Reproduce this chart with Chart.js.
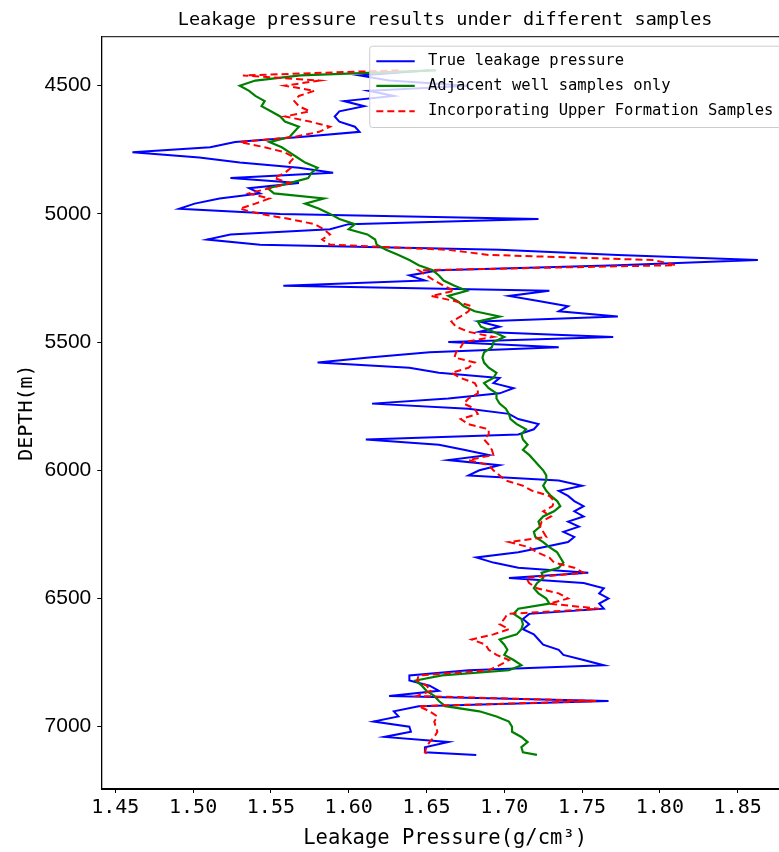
<!DOCTYPE html>
<html>
<head>
<meta charset="utf-8">
<title>Leakage pressure results under different samples</title>
<script src="https://cdn.jsdelivr.net/npm/chart.js@4.4.0/dist/chart.umd.min.js"></script>
<style>
  html, body { margin: 0; padding: 0; background: #fff; overflow: hidden; }
  #wrap { width: 800px; height: 852px; }
</style>
</head>
<body>
<div id="wrap"><canvas id="chart" width="800" height="852"></canvas></div>
<script>
// depth (m), every 20 m
const depths = [
  4440, 4460, 4480, 4500, 4520, 4540, 4560, 4580, 4600, 4620,
  4640, 4660, 4680, 4700, 4720, 4740, 4760, 4780, 4800, 4820,
  4840, 4860, 4880, 4900, 4920, 4940, 4960, 4980, 5000, 5020,
  5040, 5060, 5080, 5100, 5120, 5140, 5160, 5180, 5200, 5220,
  5240, 5260, 5280, 5300, 5320, 5340, 5360, 5380, 5400, 5420,
  5440, 5460, 5480, 5500, 5520, 5540, 5560, 5580, 5600, 5620,
  5640, 5660, 5680, 5700, 5720, 5740, 5760, 5780, 5800, 5820,
  5840, 5860, 5880, 5900, 5920, 5940, 5960, 5980, 6000, 6020,
  6040, 6060, 6080, 6100, 6120, 6140, 6160, 6180, 6200, 6220,
  6240, 6260, 6280, 6300, 6320, 6340, 6360, 6380, 6400, 6420,
  6440, 6460, 6480, 6500, 6520, 6540, 6560, 6580, 6600, 6620,
  6640, 6660, 6680, 6700, 6720, 6740, 6760, 6780, 6800, 6820,
  6840, 6860, 6880, 6900, 6920, 6940, 6960, 6980, 7000, 7020,
  7040, 7060, 7080, 7100, 7110
];

// True leakage pressure (g/cm3)
const trueLeak = [
  1.652, 1.607, 1.626, 1.677, 1.613, 1.629, 1.597, 1.610, 1.594, 1.591,
  1.594, 1.604, 1.607, 1.569, 1.527, 1.511, 1.461, 1.504, 1.530, 1.568,
  1.590, 1.524, 1.568, 1.536, 1.543, 1.517, 1.501, 1.491, 1.556, 1.722,
  1.600, 1.588, 1.524, 1.509, 1.543, 1.697, 1.773, 1.863, 1.773, 1.658,
  1.639, 1.649, 1.558, 1.729, 1.703, 1.722, 1.741, 1.735, 1.773, 1.684,
  1.697, 1.684, 1.770, 1.664, 1.735, 1.652, 1.613, 1.580, 1.639, 1.658,
  1.697, 1.693, 1.706, 1.697, 1.664, 1.615, 1.677, 1.703, 1.709, 1.722,
  1.719, 1.709, 1.611, 1.658, 1.674, 1.690, 1.664, 1.697, 1.684, 1.677,
  1.735, 1.750, 1.735, 1.741, 1.745, 1.751, 1.745, 1.751, 1.741, 1.748,
  1.738, 1.745, 1.741, 1.725, 1.709, 1.682, 1.693, 1.709, 1.754, 1.703,
  1.751, 1.764, 1.761, 1.767, 1.761, 1.764, 1.716, 1.712, 1.716, 1.712,
  1.719, 1.722, 1.725, 1.735, 1.738, 1.751, 1.764, 1.677, 1.639, 1.639,
  1.652, 1.658, 1.626, 1.767, 1.645, 1.629, 1.632, 1.616, 1.639, 1.640,
  1.623, 1.664, 1.649, 1.649, 1.682
];

// Adjacent well samples only
const adjacentOnly = [
  1.656, 1.569, 1.540, 1.530, 1.536, 1.540, 1.546, 1.544, 1.550, 1.556,
  1.559, 1.568, 1.565, 1.562, 1.549, 1.557, 1.562, 1.567, 1.572, 1.580,
  1.576, 1.574, 1.562, 1.548, 1.552, 1.584, 1.572, 1.581, 1.588, 1.594,
  1.604, 1.600, 1.612, 1.617, 1.618, 1.624, 1.632, 1.639, 1.645, 1.654,
  1.658, 1.661, 1.668, 1.676, 1.664, 1.670, 1.674, 1.681, 1.697, 1.683,
  1.685, 1.693, 1.700, 1.693, 1.692, 1.687, 1.686, 1.687, 1.690, 1.695,
  1.693, 1.687, 1.690, 1.695, 1.695, 1.697, 1.701, 1.703, 1.704, 1.708,
  1.714, 1.711, 1.712, 1.715, 1.712, 1.716, 1.719, 1.722, 1.725, 1.727,
  1.727, 1.725, 1.727, 1.730, 1.734, 1.736, 1.732, 1.725, 1.722, 1.723,
  1.719, 1.720, 1.725, 1.729, 1.734, 1.736, 1.738, 1.735, 1.724, 1.725,
  1.721, 1.719, 1.722, 1.727, 1.729, 1.709, 1.706, 1.711, 1.712, 1.711,
  1.708, 1.697, 1.700, 1.702, 1.700, 1.706, 1.711, 1.703, 1.660, 1.643,
  1.647, 1.650, 1.655, 1.658, 1.662, 1.684, 1.695, 1.703, 1.705, 1.705,
  1.711, 1.715, 1.711, 1.712, 1.721
];

// Incorporating upper formation samples
const upperFormation = [
  1.632, 1.532, 1.581, 1.559, 1.578, 1.568, 1.565, 1.568, 1.575, 1.559,
  1.575, 1.588, 1.581, 1.565, 1.530, 1.546, 1.559, 1.565, 1.562, 1.563,
  1.559, 1.552, 1.562, 1.549, 1.536, 1.549, 1.540, 1.530, 1.543, 1.562,
  1.578, 1.584, 1.588, 1.583, 1.588, 1.664, 1.690, 1.796, 1.810, 1.645,
  1.650, 1.655, 1.661, 1.668, 1.653, 1.668, 1.679, 1.677, 1.672, 1.666,
  1.669, 1.677, 1.693, 1.674, 1.672, 1.669, 1.668, 1.681, 1.677, 1.666,
  1.672, 1.681, 1.683, 1.683, 1.677, 1.674, 1.681, 1.683, 1.672, 1.677,
  1.690, 1.690, 1.687, 1.690, 1.692, 1.693, 1.677, 1.690, 1.693, 1.697,
  1.701, 1.712, 1.718, 1.729, 1.732, 1.731, 1.725, 1.730, 1.724, 1.723,
  1.725, 1.727, 1.703, 1.716, 1.721, 1.729, 1.732, 1.745, 1.751, 1.714,
  1.716, 1.721, 1.735, 1.741, 1.729, 1.761, 1.702, 1.700, 1.697, 1.703,
  1.693, 1.679, 1.688, 1.690, 1.695, 1.703, 1.697, 1.690, 1.645, 1.644,
  1.650, 1.653, 1.644, 1.759, 1.645, 1.652, 1.657, 1.655, 1.656, 1.657,
  1.655, 1.652, 1.650, 1.649, 1.652
];

const seriesNames = [
  'True leakage pressure',
  'Adjacent well samples only',
  'Incorporating Upper Formation Samples'
];
const xTicks = [1.45, 1.50, 1.55, 1.60, 1.65, 1.70, 1.75, 1.80, 1.85];
const yTicks = [4500, 5000, 5500, 6000, 6500, 7000];

const MONO = "'DejaVu Sans Mono', 'Liberation Mono', monospace";
const SANS = "'Liberation Sans', Arial, sans-serif";

function toPoints(values) {
  return values.map((v, i) => ({ x: v, y: depths[i] }));
}

// frame around the plot area + matplotlib-like legend in the top right corner
const frameAndLegend = {
  id: 'frameAndLegend',
  afterDraw(chart) {
    const { ctx, chartArea } = chart;
    ctx.save();
    ctx.strokeStyle = '#000';
    ctx.lineWidth = 1;
    ctx.strokeRect(chartArea.left + 0.5, chartArea.top + 0.5,
      chartArea.right - chartArea.left - 1, chartArea.bottom - chartArea.top - 1);

    ctx.font = '15.5px ' + MONO;
    const textW = Math.max(...seriesNames.map(n => ctx.measureText(n).width));
    const right = chartArea.right - 7.5;
    const left = right - (6.6 + 38.4 + 13.3 + textW + 8.2);
    const top = chartArea.top + 10;
    const h = 81.3;

    ctx.fillStyle = 'rgba(255,255,255,0.8)';
    ctx.strokeStyle = '#cccccc';
    ctx.lineWidth = 1;
    ctx.beginPath();
    ctx.roundRect(left, top, right - left, h, 3);
    ctx.fill();
    ctx.stroke();

    const rows = [15, 39.7, 65];
    chart.data.datasets.forEach((ds, i) => {
      const y = top + rows[i];
      ctx.strokeStyle = ds.borderColor;
      ctx.lineWidth = ds.borderWidth;
      ctx.setLineDash(ds.borderDash || []);
      ctx.beginPath();
      ctx.moveTo(left + 6.6, y);
      ctx.lineTo(left + 45, y);
      ctx.stroke();
      ctx.setLineDash([]);
      ctx.fillStyle = '#000';
      ctx.textBaseline = 'middle';
      ctx.textAlign = 'left';
      ctx.fillText(ds.label, left + 58.3, y);
    });
    ctx.restore();
  }
};

new Chart(document.getElementById('chart'), {
  type: 'scatter',
  data: {
    datasets: [
      {
        label: seriesNames[0],
        data: toPoints(trueLeak),
        borderColor: '#0000ff',
        borderWidth: 2,
        showLine: true,
        pointRadius: 0,
        tension: 0,
        order: 3
      },
      {
        label: seriesNames[1],
        data: toPoints(adjacentOnly),
        borderColor: '#008000',
        borderWidth: 2.2,
        showLine: true,
        pointRadius: 0,
        tension: 0,
        order: 2
      },
      {
        label: seriesNames[2],
        data: toPoints(upperFormation),
        borderColor: '#ff0000',
        borderWidth: 2,
        borderDash: [7, 4],
        showLine: true,
        pointRadius: 0,
        tension: 0,
        order: 1
      }
    ]
  },
  options: {
    responsive: false,
    animation: false,
    devicePixelRatio: 1,
    layout: { padding: { left: 0, right: 11, top: 0, bottom: 0 } },
    plugins: {
      legend: { display: false },
      tooltip: { enabled: false },
      title: {
        display: true,
        fullSize: false,
        text: 'Leakage pressure results under different samples',
        color: '#000',
        font: { family: MONO, size: 18.5, weight: 'normal' },
        padding: { top: 9, bottom: 5 }
      }
    },
    scales: {
      x: {
        type: 'linear',
        position: 'bottom',
        min: 1.441,
        max: 1.883,
        afterBuildTicks: s => { s.ticks = xTicks.map(v => ({ value: v })); },
        afterFit: s => { s.height = 63; },
        ticks: {
          autoSkip: false,
          maxRotation: 0,
          color: '#000',
          padding: 3,
          font: { family: MONO, size: 20 },
          callback: v => v.toFixed(2)
        },
        grid: { display: true, drawOnChartArea: false, drawTicks: true, tickLength: 4, tickColor: '#000' },
        border: { display: true, color: '#000', width: 1 },
        title: {
          display: true,
          text: 'Leakage Pressure(g/cm³)',
          color: '#000',
          font: { family: MONO, size: 20.5 },
          padding: { top: 0, bottom: 1 }
        }
      },
      y: {
        type: 'linear',
        position: 'left',
        reverse: true,
        min: 4307,
        max: 7243,
        afterBuildTicks: s => { s.ticks = yTicks.map(v => ({ value: v })); },
        afterFit: s => { s.width = 101.3; },
        ticks: {
          autoSkip: false,
          color: '#000',
          padding: 6,
          font: { family: SANS, size: 21 },
          callback: v => String(v)
        },
        grid: { display: true, drawOnChartArea: false, drawTicks: true, tickLength: 4, tickColor: '#000' },
        border: { display: true, color: '#000', width: 1 },
        title: {
          display: true,
          text: 'DEPTH(m)',
          color: '#000',
          font: { family: MONO, size: 20 },
          padding: { top: 15, bottom: 0 }
        }
      }
    }
  },
  plugins: [frameAndLegend]
});
</script>
</body>
</html>
